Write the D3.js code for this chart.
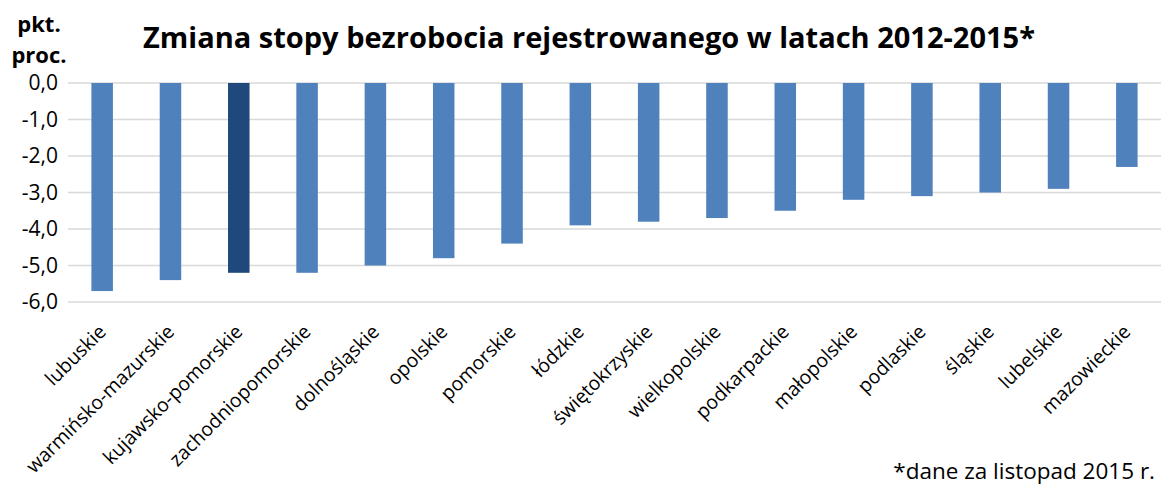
<!DOCTYPE html>
<html>
<head>
<meta charset="utf-8">
<script src="https://cdn.jsdelivr.net/npm/d3@7"></script>
<style>
  body { margin: 0; background: #fff; }
  svg { display: block; }
</style>
</head>
<body>
<div id="chart"></div>
<script>
// dane
var regions = ["lubuskie", "warmińsko-mazurskie", "kujawsko-pomorskie", "zachodniopomorskie",
  "dolnośląskie", "opolskie", "pomorskie", "łódzkie", "świętokrzyskie", "wielkopolskie",
  "podkarpackie", "małopolskie", "podlaskie", "śląskie", "lubelskie", "mazowieckie"];
var changes = [-5.7, -5.4, -5.2, -5.2, -5.0, -4.8, -4.4, -3.9, -3.8, -3.7, -3.5, -3.2, -3.1, -3.0, -2.9, -2.3];
var highlighted = ["kujawsko-pomorskie"];
var yTicks = [0, -1, -2, -3, -4, -5, -6];

var W = 1163, H = 486;
var margin = { top: 83, right: 2, bottom: 184, left: 68 };
var width = W - margin.left - margin.right;
var height = H - margin.top - margin.bottom;
var font = "'Open Sans', sans-serif";

var svg = d3.select("#chart").append("svg")
  .attr("width", W)
  .attr("height", H);

var g = svg.append("g")
  .attr("transform", "translate(" + margin.left + "," + margin.top + ")");

var x = d3.scaleBand()
  .domain(regions)
  .range([0, width])
  .paddingInner(0.685)
  .paddingOuter(0.3425);

var y = d3.scaleLinear()
  .domain([0, -6])
  .range([0, height]);

// siatka
g.selectAll(".grid")
  .data(yTicks)
  .enter().append("line")
  .attr("class", "grid")
  .attr("x1", 0)
  .attr("x2", width)
  .attr("y1", function(d) { return y(d); })
  .attr("y2", function(d) { return y(d); })
  .attr("stroke", "#d9d9d9")
  .attr("stroke-width", 1.5);

// słupki
g.selectAll(".bar")
  .data(regions)
  .enter().append("rect")
  .attr("class", "bar")
  .attr("x", function(d) { return x(d); })
  .attr("width", x.bandwidth())
  .attr("y", y(0))
  .attr("height", function(d, i) { return y(changes[i]) - y(0); })
  .attr("fill", function(d) { return highlighted.indexOf(d) >= 0 ? "#1f497d" : "#4f81bd"; });

// oś Y
var yAxis = g.append("g")
  .call(d3.axisLeft(y).tickValues(yTicks).tickSize(0).tickPadding(10)
    .tickFormat(function(d) { return d3.format(".1f")(d).replace(".", ",").replace("−", "-"); }));
yAxis.select(".domain").remove();
yAxis.selectAll("text")
  .attr("font-family", font)
  .attr("font-size", "21px")
  .attr("fill", "#000");

// oś X - etykiety pod kątem
var xAxis = g.append("g")
  .attr("transform", "translate(0," + height + ")")
  .call(d3.axisBottom(x).tickSize(0).tickPadding(0));
xAxis.select(".domain").remove();
xAxis.selectAll("text")
  .attr("font-family", font)
  .attr("font-size", "19.5px")
  .attr("fill", "#000")
  .attr("text-anchor", "end")
  .attr("dy", null)
  .attr("y", 0)
  .attr("transform", "translate(5,31) rotate(-45)");

// tytuł
svg.append("text")
  .attr("x", 589)
  .attr("y", 48)
  .attr("text-anchor", "middle")
  .attr("font-family", font)
  .attr("font-weight", "bold")
  .attr("font-size", "29px")
  .attr("fill", "#000")
  .text("Zmiana stopy bezrobocia rejestrowanego w latach 2012-2015*");

// jednostka
var unit = svg.append("text")
  .attr("text-anchor", "middle")
  .attr("font-family", font)
  .attr("font-weight", "bold")
  .attr("font-size", "22px")
  .attr("fill", "#000");
unit.append("tspan").attr("x", 39).attr("y", 32).text("pkt.");
unit.append("tspan").attr("x", 39).attr("y", 63).text("proc.");

// przypis
svg.append("text")
  .attr("x", 1155)
  .attr("y", 479)
  .attr("text-anchor", "end")
  .attr("font-family", font)
  .attr("font-size", "22.5px")
  .attr("fill", "#000")
  .text("*dane za listopad 2015 r.");
</script>
</body>
</html>
